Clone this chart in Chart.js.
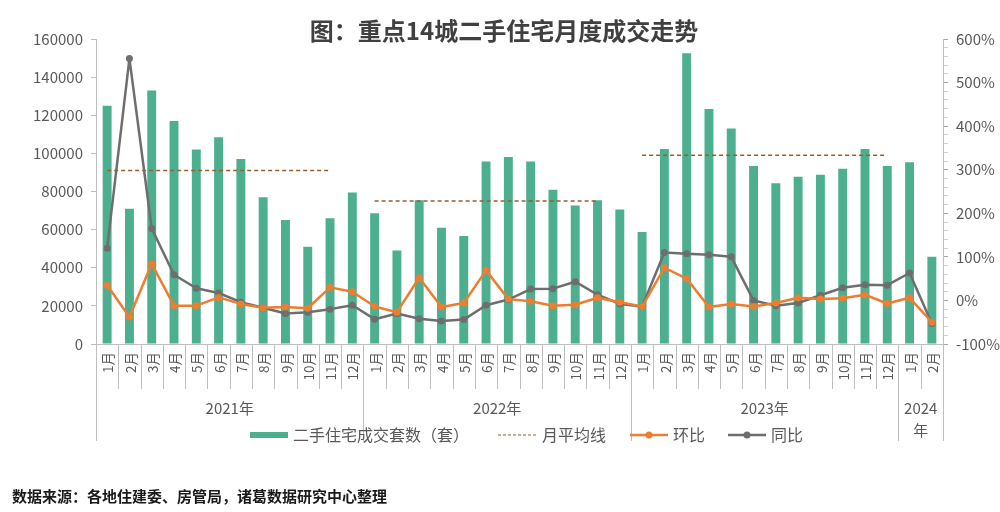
<!DOCTYPE html>
<html>
<head>
<meta charset="utf-8">
<script src="https://cdn.jsdelivr.net/npm/chart.js@4.4.1/dist/chart.umd.min.js"></script>
<style>
    html, body { margin: 0; padding: 0; background: #fff; }
    #wrap { width: 1000px; height: 512px; position: relative; }
</style>
</head>
<body>
<div id="wrap"><canvas id="myChart" width="1000" height="512"></canvas></div>
<script>
const months = [
    "1月", "2月", "3月", "4月", "5月", "6月", "7月", "8月", "9月", "10月", "11月", "12月",
    "1月", "2月", "3月", "4月", "5月", "6月", "7月", "8月", "9月", "10月", "11月", "12月",
    "1月", "2月", "3月", "4月", "5月", "6月", "7月", "8月", "9月", "10月", "11月", "12月",
    "1月", "2月",
];
const yearLabels = ["2021年", "2022年", "2023年", "2024\n年"];
const yearCounts = [12, 12, 12, 2];

// 二手住宅成交套数（套）
const volumes = [
    125000, 71000, 133000, 117000, 102000, 108500, 97000, 77000, 65000, 51000, 66000, 79500,
    68600, 49000, 75400, 61000, 56700, 95800, 98100, 95800, 80900, 72700, 75400, 70500,
    58800, 102300, 152500, 123300, 113100, 93400, 84300, 87800, 88800, 92000, 102300, 93400,
    95300, 45800,
];
// 环比 (%)
const momValues = [
    35, -38, 84, -12, -12, 7, -8, -17, -15, -18, 30, 20,
    -14, -27, 52, -15, -6, 69, 3, -2, -12, -10, 6, -4,
    -14, 75, 50, -15, -8, -14, -6, 6, 3, 5, 13, -7,
    6, -50,
];
// 同比 (%)
const yoyValues = [
    120, 555, 165, 59, 28, 17, -4, -17, -30, -27, -20, -11,
    -43, -30, -42, -47, -44, -11, 2, 26, 27, 43, 13, -8,
    -14, 110, 107, 105, 100, 0, -12, -6, 12, 29, 36, 35,
    63, -53,
];
// 月平均线
const avgValues = [91000, 75000, 99000];
const avgFrom = [0, 12, 24];
const avgTo = [10, 22, 35];

const leftTicks = { min: 0, max: 160000, step: 20000 };
const rightTicks = { min: -100, max: 600, step: 20 };

const GREEN = "#4CAF8F";
const ORANGE = "#ED7D31";
const GREY = "#6E6E6E";
const AVG = "#9A5E2C";
const AXIS = "#BFBFBF";
const TEXT = "#595959";
const FONT = '"Noto Sans CJK SC", "Noto Sans", sans-serif';

let avgLine = months.map(() => null);
for (let k = 0; k < avgValues.length; k++) {
    for (let i = avgFrom[k]; i <= avgTo[k]; i++) avgLine[i] = avgValues[k];
}

const axisPlugin = {
    id: "axisPlugin",
    afterDraw(chart) {
        const c = chart.ctx;
        const x = chart.scales.x;
        const area = chart.chartArea;
        const base = area.bottom;
        const half = (x.getPixelForValue(1) - x.getPixelForValue(0)) / 2;
        c.save();

        // title
        c.fillStyle = "#404040";
        c.font = "bold 24px " + FONT;
        c.textAlign = "center";
        c.textBaseline = "middle";
        c.fillText("图：重点14城二手住宅月度成交走势", 504, 31);

        // month labels + separators
        c.strokeStyle = AXIS;
        c.lineWidth = 1;
        c.font = "13.5px " + FONT;
        c.fillStyle = TEXT;
        months.forEach((m, i) => {
            const px = x.getPixelForValue(i);
            c.save();
            c.translate(px, base + 8);
            c.rotate(-Math.PI / 2);
            c.textAlign = "right";
            c.textBaseline = "middle";
            c.fillText(m, 0, 1);
            c.restore();
            if (i > 0) {
                c.beginPath();
                c.moveTo(Math.round(px - half) + 0.5, base);
                c.lineTo(Math.round(px - half) + 0.5, base + 45);
                c.stroke();
            }
        });

        // year labels + long separators
        let start = 0;
        c.font = "15px " + FONT;
        c.textAlign = "center";
        c.textBaseline = "middle";
        const edges = [x.getPixelForValue(0) - half];
        yearLabels.forEach((y, k) => {
            const end = start + yearCounts[k] - 1;
            const cx = (x.getPixelForValue(start) + x.getPixelForValue(end)) / 2;
            y.split("\n").forEach((line, j) => c.fillText(line, cx, 408 + j * 22));
            edges.push(x.getPixelForValue(end) + half);
            start = end + 1;
        });
        edges.forEach((e) => {
            c.beginPath();
            c.moveTo(Math.round(e) + 0.5, base);
            c.lineTo(Math.round(e) + 0.5, 441);
            c.stroke();
        });

        // legend
        const ly = 435;
        c.textAlign = "left";
        c.font = "16px " + FONT;
        c.fillStyle = GREEN;
        c.fillRect(250, ly - 3, 38, 6);
        c.fillStyle = TEXT;
        c.fillText("二手住宅成交套数（套）", 293, ly);

        c.strokeStyle = AVG;
        c.lineWidth = 1.2;
        c.setLineDash([3, 2]);
        c.beginPath();
        c.moveTo(498, ly);
        c.lineTo(536, ly);
        c.stroke();
        c.setLineDash([]);
        c.fillText("月平均线", 542, ly);

        [[ORANGE, 630, "环比"], [GREY, 728, "同比"]].forEach(([col, lx, txt]) => {
            c.strokeStyle = col;
            c.fillStyle = col;
            c.lineWidth = 2.5;
            c.beginPath();
            c.moveTo(lx, ly);
            c.lineTo(lx + 38, ly);
            c.stroke();
            c.beginPath();
            c.arc(lx + 19, ly, 3.5, 0, Math.PI * 2);
            c.fill();
            c.fillStyle = TEXT;
            c.fillText(txt, lx + 43, ly);
        });

        // source
        c.fillStyle = "#1a1a1a";
        c.font = "600 15px " + FONT;
        c.fillText("数据来源：各地住建委、房管局，诸葛数据研究中心整理", 12, 496);
        c.restore();
    },
};

const ctx = document.getElementById("myChart").getContext("2d");
const myChart = new Chart(ctx, {
    type: "bar",
    data: {
        labels: months,
        datasets: [
            {
                type: "line",
                label: "环比",
                data: momValues,
                yAxisID: "y1",
                borderColor: ORANGE,
                backgroundColor: ORANGE,
                borderWidth: 2.5,
                borderJoinStyle: "round",
                pointRadius: 3.5,
                pointBorderWidth: 0,
                order: 0,
            },
            {
                type: "line",
                label: "同比",
                data: yoyValues,
                yAxisID: "y1",
                borderColor: GREY,
                backgroundColor: GREY,
                borderWidth: 2.5,
                borderJoinStyle: "round",
                pointRadius: 3.5,
                pointBorderWidth: 0,
                order: 1,
            },
            {
                type: "line",
                label: "月平均线",
                data: avgLine,
                yAxisID: "y",
                borderColor: AVG,
                borderWidth: 1.6,
                borderDash: [4, 3],
                pointRadius: 0,
                spanGaps: false,
                order: 2,
            },
            {
                label: "二手住宅成交套数（套）",
                data: volumes,
                yAxisID: "y",
                backgroundColor: GREEN,
                barPercentage: 0.4,
                categoryPercentage: 1,
                order: 3,
            },
        ],
    },
    options: {
        responsive: false,
        animation: false,
        layout: { padding: { top: 39, left: 0, right: 0, bottom: 0 } },
        plugins: {
            legend: { display: false },
            tooltip: { enabled: false },
        },
        scales: {
            x: {
                ticks: { display: false },
                grid: { display: false },
                border: { color: AXIS },
                afterFit: (s) => { s.height = 168; },
            },
            y: {
                position: "left",
                min: leftTicks.min,
                max: leftTicks.max,
                ticks: {
                    stepSize: leftTicks.step,
                    padding: 8,
                    color: TEXT,
                    font: { family: FONT, size: 15 },
                    callback: (v) => String(v),
                },
                grid: { drawOnChartArea: false, tickLength: 5, color: AXIS },
                border: { color: AXIS },
                afterFit: (s) => { s.width = 96; },
            },
            y1: {
                position: "right",
                min: rightTicks.min,
                max: rightTicks.max,
                ticks: {
                    stepSize: rightTicks.step,
                    autoSkip: false,
                    padding: 8,
                    color: TEXT,
                    font: { family: FONT, size: 15 },
                    callback: (v) => (v % 100 === 0 ? v + "%" : ""),
                },
                grid: {
                    drawOnChartArea: false,
                    tickLength: 5,
                    color: (c) => (c.tick && c.tick.value % 100 === 0 ? "#A6A6A6" : "#D0D0D0"),
                },
                border: { color: AXIS },
                afterFit: (s) => { s.width = 57; },
            },
        },
    },
    plugins: [axisPlugin],
});
</script>
</body>
</html>
